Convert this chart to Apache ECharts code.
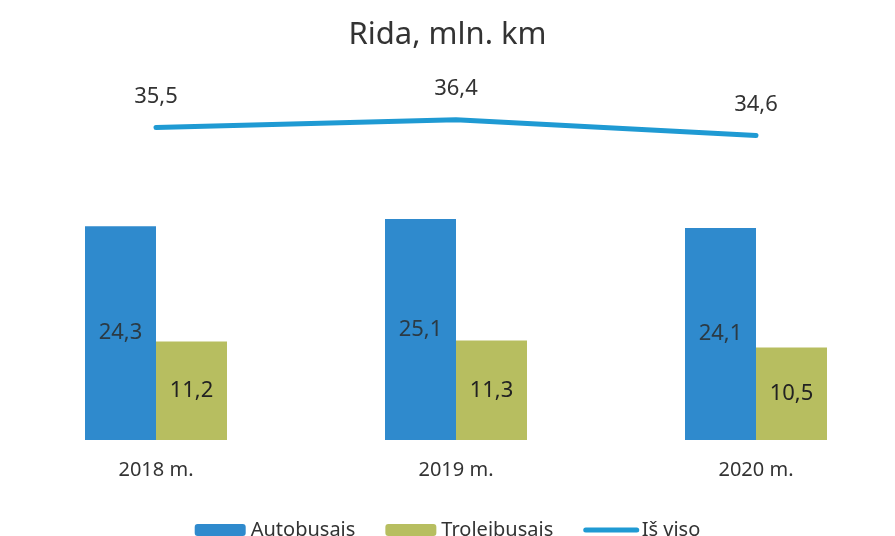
<!DOCTYPE html>
<html>
<head>
<meta charset="utf-8">
<script src="https://cdn.jsdelivr.net/npm/echarts@6/dist/echarts.min.js"></script>
<style>
	html, body { margin: 0; padding: 0; background: #fff; }
	#chart { width: 895px; height: 536px; }
</style>
</head>
<body>
<div id="chart"></div>
<script>
const years = ['2018 m.', '2019 m.', '2020 m.'];
const autobusai = [24.3, 25.1, 24.1];
const troleibusai = [11.2, 11.3, 10.5];
const isViso = [35.5, 36.4, 34.6];

const fontFamily = '"Noto Sans", "Open Sans", sans-serif';
const textColor = '#333';
const fmt = (p) => String(p.value).replace('.', ',');

const chart = echarts.init(document.getElementById('chart'));
chart.setOption({
	backgroundColor: '#fff',
	textStyle: { fontFamily: fontFamily },
	title: {
		text: 'Rida, mln. km',
		left: 'center',
		top: 15,
		textStyle: { fontSize: 31, fontWeight: 'normal', color: textColor, fontFamily: fontFamily },
	},
	legend: {
		top: 515,
		left: 'center',
		itemWidth: 51,
		itemHeight: 12,
		itemGap: 30,
		textStyle: { fontSize: 20, color: textColor, fontFamily: fontFamily },
		lineStyle: { width: 5, cap: 'round' },
		data: ['Autobusais', 'Troleibusais', 'Iš viso'],
	},
	// category centres sit on the grid edges (boundaryGap off)
	grid: { left: 156, right: 139, top: 0, height: 440 },
	xAxis: {
		type: 'category',
		data: years,
		boundaryGap: false,
		axisLine: { show: false },
		axisTick: { show: false },
		axisLabel: { fontSize: 20, color: textColor, margin: 20 },
	},
	yAxis: {
		type: 'value',
		min: 0,
		max: 50,
		show: false,
		splitLine: { show: false },
	},
	series: [
		{
			name: 'Autobusais',
			type: 'bar',
			data: autobusai,
			barWidth: 71,
			barGap: '0%',
			clip: false,
			itemStyle: { color: '#2F8ACD' },
			label: { show: true, position: 'inside', formatter: fmt, fontSize: 22, color: '#2b3a44' },
		},
		{
			name: 'Troleibusais',
			type: 'bar',
			data: troleibusai,
			barWidth: 71,
			clip: false,
			itemStyle: { color: '#B7BE60' },
			label: { show: true, position: 'inside', formatter: fmt, fontSize: 22, color: '#222' },
		},
		{
			name: 'Iš viso',
			type: 'line',
			data: isViso,
			symbol: 'circle',
			symbolSize: 1,
			showSymbol: true,
			clip: false,
			itemStyle: { color: 'rgba(31,154,211,0)' },
			lineStyle: { color: '#1F9AD3', width: 5, cap: 'round' },
			label: { show: true, position: 'top', distance: 19, formatter: fmt, fontSize: 22, color: textColor },
		},
	],
});
</script>
</body>
</html>
